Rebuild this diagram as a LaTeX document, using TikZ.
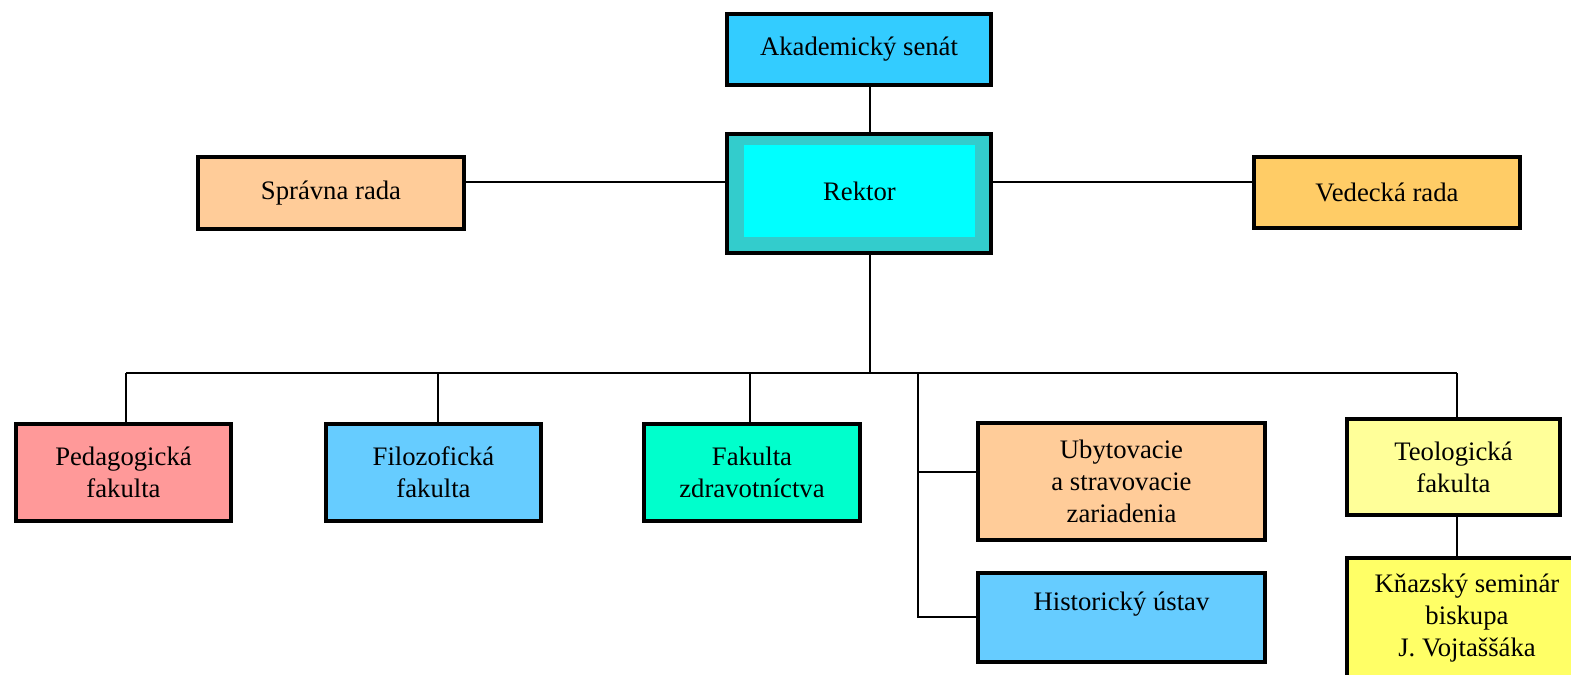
\documentclass[tikz,border=0pt]{standalone}
\usepackage{fontspec}
\setmainfont{Liberation Serif}
\definecolor{cAk}{HTML}{33CCFF}
\definecolor{cRkOut}{HTML}{33CCCC}
\definecolor{cRkIn}{HTML}{00FFFF}
\definecolor{cSp}{HTML}{FFCC99}
\definecolor{cVd}{HTML}{FFCC66}
\definecolor{cPe}{HTML}{FF9999}
\definecolor{cFi}{HTML}{66CCFF}
\definecolor{cFz}{HTML}{00FFCC}
\definecolor{cUb}{HTML}{FFCC99}
\definecolor{cHi}{HTML}{66CCFF}
\definecolor{cTe}{HTML}{FFFF99}
\definecolor{cKn}{HTML}{FFFF66}
\tikzset{
  box/.style={draw=black, line width=2pt, inner sep=0pt, align=center,
    font=\fontsize{13.35}{15.85}\selectfont},
  conn/.style={draw=black, line width=1pt},
}
\begin{document}
\begin{tikzpicture}[x=0.5pt,y=-0.5pt]
\clip (0,0) rectangle (1571,675);
\fill[white] (0,0) rectangle (1571,675);
% top level
\node[box, fill=cAk, minimum width=132pt, minimum height=35.5pt] (ak) at (859,49.5) {Akademický senát};
\node[box, fill=cRkOut, minimum width=132pt, minimum height=59.5pt] (rk) at (859,193.5) {};
\node[fill=cRkIn, inner sep=0pt, minimum width=115.5pt, minimum height=46pt,
  font=\fontsize{13.35}{15.85}\selectfont] (rki) at (859.5,191) {Rektor};
\node[box, fill=cSp, minimum width=133pt, minimum height=36pt] (sp) at (331,193) {Správna rada};
\node[box, fill=cVd, minimum width=133pt, minimum height=35.5pt] (vd) at (1387,192.5) {Vedecká rada};
% bottom level
\node[box, fill=cPe, minimum width=107.5pt, minimum height=48.5pt] (pe) at (123.5,472.5) {Pedagogická\\fakulta};
\node[box, fill=cFi, minimum width=107.5pt, minimum height=48.5pt] (fi) at (433.5,472.5) {Filozofická\\fakulta};
\node[box, fill=cFz, minimum width=108pt, minimum height=48.5pt] (fz) at (752,472.5) {Fakulta\\zdravotníctva};
\node[box, fill=cUb, minimum width=143.5pt, minimum height=58.5pt] (ub) at (1121.5,481.5) {Ubytovacie\\a stravovacie\\zariadenia};
\node[box, fill=cHi, minimum width=143.5pt, minimum height=44.5pt] (hi) at (1121.5,617.5) {Historický ústav\\\mbox{}};
\node[box, fill=cTe, minimum width=106.5pt, minimum height=48pt] (te) at (1453.5,467) {Teologická\\fakulta};
\node[box, fill=cKn, minimum width=120pt, minimum height=60pt] (kn) at (1467,618) {Kňazský seminár\\biskupa\\J. Vojtaššáka};
% connector coordinates
\coordinate (trunk) at (870,373);
\coordinate (hy) at (0,182);
\coordinate (dpe) at (126,373);
\coordinate (dfi) at (438,373);
\coordinate (dfz) at (750,373);
\coordinate (dub) at (918,373);
\coordinate (dte) at (1457,373);
\coordinate (kub) at (918,472);
\coordinate (khi) at (918,617);
% connectors
\draw[conn] (ak.south -| trunk) -- (rk.north -| trunk);
\draw[conn] (rk.south -| trunk) -- (trunk);
\draw[conn] (sp.east |- hy) -- (rk.west |- hy);
\draw[conn] (rk.east |- hy) -- (vd.west |- hy);
\draw[conn] (dpe) -- (dte);
\draw[conn] (dpe) -- (dpe |- pe.north);
\draw[conn] (dfi) -- (dfi |- fi.north);
\draw[conn] (dfz) -- (dfz |- fz.north);
\draw[conn] (dte) -- (dte |- te.north);
\draw[conn] (dte |- te.south) -- (dte |- kn.north);
\draw[conn] (dub) -- (khi) -- (hi.west |- khi);
\draw[conn] (kub) -- (ub.west |- kub);
\end{tikzpicture}
\end{document}
